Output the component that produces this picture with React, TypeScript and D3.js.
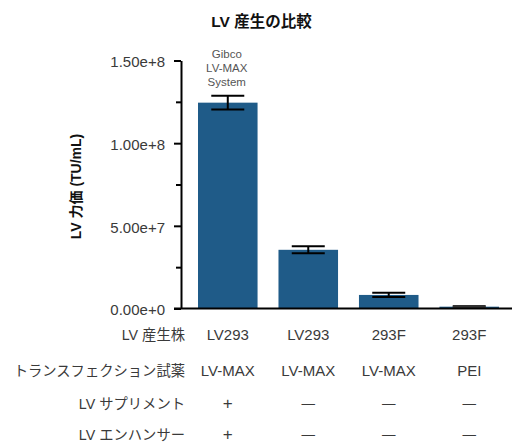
import React from 'react'
import * as d3 from 'd3'

const strains = ['LV293', 'LV293', '293F', '293F']
const reagents = ['LV-MAX', 'LV-MAX', 'LV-MAX', 'PEI']
const supplement = ['+', '—', '—', '—']
const enhancer = ['+', '—', '—', '—']
const titers = [1.245e8, 3.55e7, 8.2e6, 1.1e6]
const errors = [4.2e6, 2.1e6, 1.3e6, 4e5]
const majorTicks = [0, 5e7, 1e8, 1.5e8]
const minorTicks = [2.5e7, 7.5e7, 1.25e8]
const rowLabels = ['LV 産生株', 'トランスフェクション試薬', 'LV サプリメント', 'LV エンハンサー']
const annotation = ['Gibco', 'LV-MAX', 'System']

const FONT = '"Liberation Sans", Arial, "Noto Sans CJK JP", sans-serif'
const BAR = '#1f5b88'
const GREY = '#3a3a3a'

const width = 512
const height = 444
const axisX = 181
const baseY = 308.5

const App = () => {
  const axisRef = React.useRef(null)

  const x = d3.scaleBand().domain(d3.range(titers.length)).range([198, 499]).paddingInner(0.26).paddingOuter(0)
  const y = d3.scaleLinear().domain([0, 1.5e8]).range([baseY, 60.5])
  const fmt = d3.format('.2e')

  React.useEffect(() => {
    const g = d3.select(axisRef.current)
    g.selectAll('*').remove()
    const major = g
      .append('g')
      .attr('transform', `translate(${axisX},0)`)
      .call(d3.axisLeft(y).tickValues(majorTicks).tickSize(7).tickSizeOuter(0).tickPadding(9).tickFormat(fmt))
    major.select('.domain').attr('stroke', '#000').attr('stroke-width', 2)
    major.selectAll('line').attr('stroke', '#000').attr('stroke-width', 2)
    major
      .selectAll('text')
      .attr('font-family', FONT)
      .attr('font-size', 15)
      .attr('fill', GREY)
      .attr('dy', '0.42em')
    const minor = g
      .append('g')
      .attr('transform', `translate(${axisX},0)`)
      .call(d3.axisLeft(y).tickValues(minorTicks).tickSize(5).tickFormat(() => ''))
    minor.select('.domain').remove()
    minor.selectAll('line').attr('stroke', '#000').attr('stroke-width', 2)
  }, [])

  const cx = (i) => x(i) + x.bandwidth() / 2
  const cap = 16.5
  const rows = [strains, reagents, supplement, enhancer]
  const rowY = [340, 376, 409, 439.5]

  const cellStyle = (t) => {
    if (t === '+') return { fontSize: 17, dy: 0 }
    if (t === '—') return { fontSize: 13.5, dy: -1 }
    return { fontSize: 15, dy: 0 }
  }

  return (
    <svg width={width} height={height} style={{ position: 'absolute', left: 0, top: 0 }}>
      <rect width={width} height={height} fill="#fff" />
      <text x={261.5} y={26.7} textAnchor="middle" fontFamily={FONT} fontSize={15.5} fontWeight="bold" fill="#111">
        LV 産生の比較
      </text>
      <text
        transform={`translate(81,${(y(0) + y(1.5e8)) / 2 + 2}) rotate(-90)`}
        textAnchor="middle"
        fontFamily={FONT}
        fontSize={14}
        fontWeight="bold"
        fill="#111"
      >
        LV 力価 (TU/mL)
      </text>
      {titers.map((v, i) => (
        <rect key={i} x={x(i)} y={y(v)} width={x.bandwidth()} height={y(0) - y(v)} fill={BAR} />
      ))}
      {titers.map((v, i) => (
        <g key={i} stroke={i === 3 ? '#333' : '#000'} strokeWidth={2}>
          <line x1={cx(i)} x2={cx(i)} y1={y(v - errors[i])} y2={y(v + errors[i])} />
          <line x1={cx(i) - cap} x2={cx(i) + cap} y1={y(v + errors[i])} y2={y(v + errors[i])} />
          <line x1={cx(i) - cap} x2={cx(i) + cap} y1={y(v - errors[i])} y2={y(v - errors[i])} />
        </g>
      ))}
      {annotation.map((t, k) => (
        <text
          key={k}
          x={cx(0) - 1}
          y={y(titers[0] + errors[0]) - 38 + k * 14.3}
          textAnchor="middle"
          fontFamily={FONT}
          fontSize={11.5}
          fill="#555"
        >
          {t}
        </text>
      ))}
      <g ref={axisRef} />
      <line x1={axisX - 7} x2={width} y1={baseY} y2={baseY} stroke="#000" strokeWidth={2.2} />
      {rowLabels.map((t, r) => (
        <text key={r} x={185} y={rowY[r]} textAnchor="end" fontFamily={FONT} fontSize={14.3} fill={GREY}>
          {t}
        </text>
      ))}
      {rows.map((row, r) =>
        row.map((t, i) => {
          const s = cellStyle(t)
          return (
            <text
              key={`${r}-${i}`}
              x={cx(i)}
              y={rowY[r] + s.dy}
              textAnchor="middle"
              fontFamily={FONT}
              fontSize={s.fontSize}
              fill={GREY}
            >
              {t}
            </text>
          )
        })
      )}
    </svg>
  )
}

export default App
